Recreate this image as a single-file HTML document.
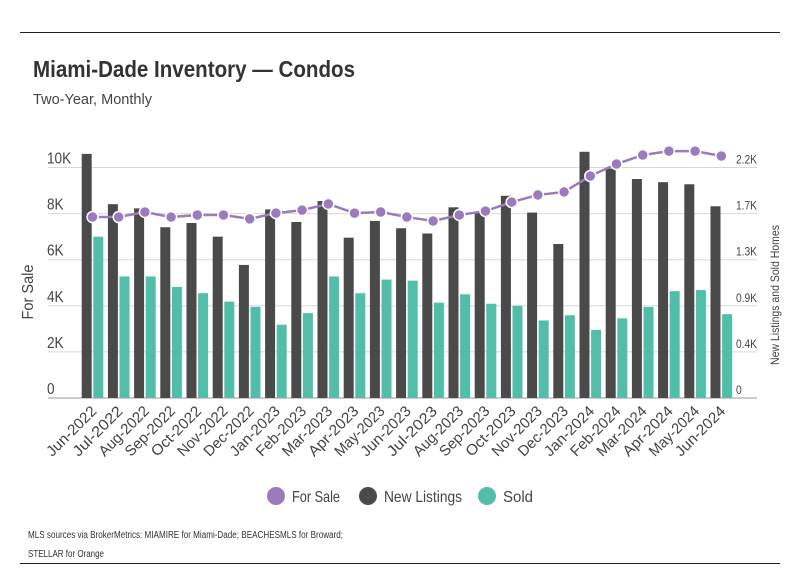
<!DOCTYPE html>
<html><head><meta charset="utf-8"><style>
body{margin:0;background:#fff;width:798px;height:575px;overflow:hidden;font-family:"Liberation Sans",sans-serif;}
svg text{font-family:"Liberation Sans",sans-serif;}
</style></head><body>
<svg id="chart" width="798" height="575" xmlns="http://www.w3.org/2000/svg">
<line x1="20" y1="32.5" x2="780" y2="32.5" stroke="#222" stroke-width="1"/>
<line x1="20" y1="563.5" x2="780" y2="563.5" stroke="#222" stroke-width="1"/>
<text x="33" y="77" font-size="23" font-weight="bold" fill="#333" textLength="322" lengthAdjust="spacingAndGlyphs">Miami-Dade Inventory — Condos</text>
<text x="33" y="104" font-size="15" fill="#444" textLength="119" lengthAdjust="spacingAndGlyphs">Two-Year, Monthly</text>
<g id="grid"></g><g id="bars"></g><g id="line"></g><g id="axes"></g>
<text transform="translate(33,292) rotate(-90)" text-anchor="middle" font-size="16" fill="#444" textLength="55" lengthAdjust="spacingAndGlyphs">For Sale</text>
<text transform="translate(779,295) rotate(-90)" text-anchor="middle" font-size="12" fill="#444" textLength="140" lengthAdjust="spacingAndGlyphs">New Listings and Sold Homes</text>
<g>
<g><circle cx="276" cy="496" r="9" fill="#9b7bbb"/><text x="292" y="502" font-size="16" fill="#444" textLength="48" lengthAdjust="spacingAndGlyphs">For Sale</text></g>
<g><circle cx="368" cy="496" r="9" fill="#4a4a4a"/><text x="384" y="502" font-size="16" fill="#444" textLength="78" lengthAdjust="spacingAndGlyphs">New Listings</text></g>
<g><circle cx="487" cy="496" r="9" fill="#52bda9"/><text x="503" y="502" font-size="16" fill="#444" textLength="30" lengthAdjust="spacingAndGlyphs">Sold</text></g>
</g>
<text x="28" y="538" font-size="10" fill="#333" textLength="315" lengthAdjust="spacingAndGlyphs">MLS sources via BrokerMetrics: MIAMIRE for Miami-Dade; BEACHESMLS for Broward;</text>
<text x="28" y="557" font-size="10" fill="#333" textLength="76" lengthAdjust="spacingAndGlyphs">STELLAR for Orange</text>
</svg>
<script>
const categories=["Jun-2022","Jul-2022","Aug-2022","Sep-2022","Oct-2022","Nov-2022","Dec-2022","Jan-2023","Feb-2023","Mar-2023","Apr-2023","May-2023","Jun-2023","Jul-2023","Aug-2023","Sep-2023","Oct-2023","Nov-2023","Dec-2023","Jan-2024","Feb-2024","Mar-2024","Apr-2024","May-2024","Jun-2024"];
const forSale=[7850,7850,8070,7850,7940,7940,7770,8020,8150,8420,8020,8070,7850,7680,7940,8110,8500,8810,8940,9630,10150,10540,10710,10710,10500];
const newListings=[2330,1850,1810,1630,1670,1540,1270,1800,1680,1880,1530,1690,1620,1570,1820,1770,1930,1770,1470,2350,2190,2090,2060,2040,1830];
const sold=[1540,1160,1160,1060,1000,920,870,700,810,1160,1000,1130,1120,910,990,900,880,740,790,650,760,870,1020,1030,800];
const leftTicks=[0,2000,4000,6000,8000,10000];
const leftTickLabels=["0","2K","4K","6K","8K","10K"];
const rightTickLabels=["0","0.4K","0.9K","1.3K","1.7K","2.2K"];
const NS="http://www.w3.org/2000/svg";
const y0=398,yTop=167.5,leftMax=10000,rightMax=2200;
const yL=v=>y0-(v/leftMax)*(y0-yTop);
const yR=v=>y0-(v/rightMax)*(y0-yTop);
const xC=i=>92.5+i*26.2;
function mk(tag,attrs,parent){const e=document.createElementNS(NS,tag);for(const k in attrs)e.setAttribute(k,attrs[k]);document.getElementById(parent).appendChild(e);return e;}
leftTicks.forEach((t,i)=>{
  const y=yL(t);
  const g=mk("line",{x1:48,x2:757,y1:y,y2:y,stroke:i==0?"#bbb":"#d8d8d8","stroke-width":i==0?1.5:1},"grid");
  
  
  const l=mk("text",{x:47,y:y-4,"font-size":16,fill:"#444",transform:`translate(47,0) scale(0.85,1) translate(-47,0)`},"axes");l.textContent=leftTickLabels[i];
  
  
  const r=mk("text",{x:736,y:y-4,"font-size":12,fill:"#444",transform:`translate(736,0) scale(0.85,1) translate(-736,0)`},"axes");r.textContent=rightTickLabels[i];
  
  
});
categories.forEach((c,i)=>{
  const x=xC(i);
  const b1=mk("rect",{x:x-10.8,y:yR(newListings[i]),width:10,height:y0-yR(newListings[i]),fill:"#4a4a4a"},"bars");
  
  
  const b2=mk("rect",{x:x+0.8,y:yR(sold[i]),width:10,height:y0-yR(sold[i]),fill:"#52bda9"},"bars");
  
  
  const t=mk("text",{transform:`translate(${x+5},412) rotate(-45)`,"text-anchor":"end","font-size":15,fill:"#444",textLength:64,lengthAdjust:"spacingAndGlyphs"},"axes");
  t.textContent=c;
  
  
});
const pts=forSale.map((v,i)=>xC(i)+","+yL(v)).join(" ");
const pl=mk("polyline",{points:pts,fill:"none",stroke:"#9b7bbb","stroke-width":2.5},"line");


forSale.forEach((v,i)=>{
  const c=mk("circle",{cx:xC(i),cy:yL(v),r:5.5,fill:"#9b7bbb",stroke:"#fff","stroke-width":1.5},"line");
  
  
});
</script>
</body></html>
